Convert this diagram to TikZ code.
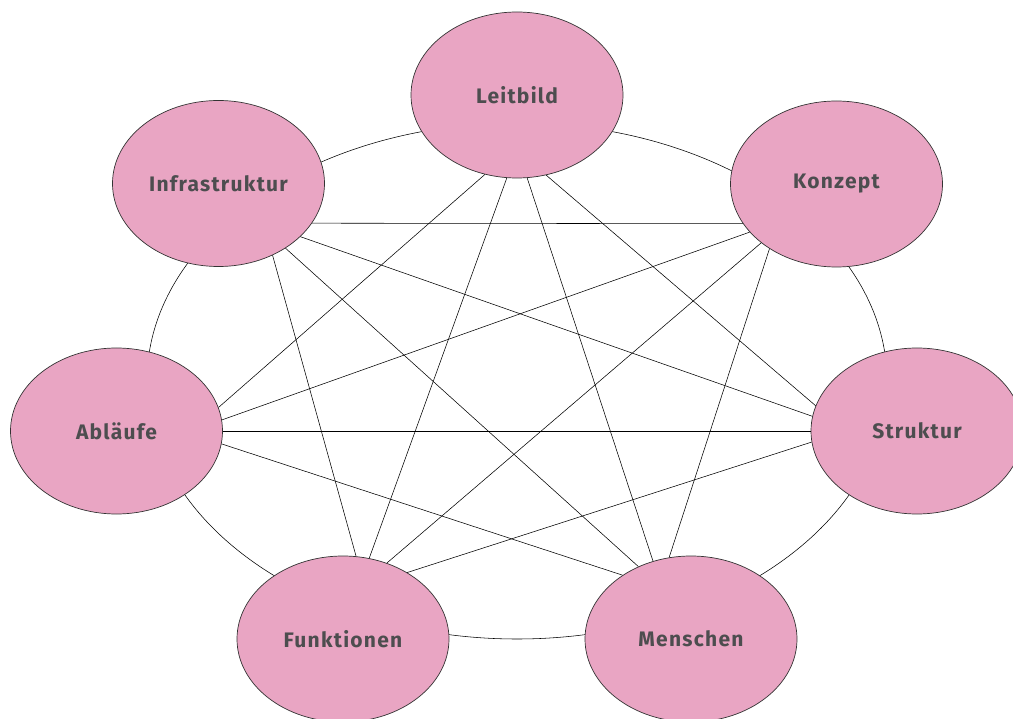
\documentclass[tikz,border=0pt]{standalone}
\usepackage{fontspec}
\setmainfont{Fira Sans}
\newfontfamily\lblfont[LetterSpace=6]{Fira Sans}
\usetikzlibrary{shapes.geometric}
\definecolor{nodefill}{HTML}{E9A5C3}
\definecolor{txt}{HTML}{4D4D4F}
\definecolor{edge}{HTML}{333333}
\begin{document}
\begin{tikzpicture}[x=1pt,y=-1pt,
  bubble/.style={ellipse, draw=edge, line width=0.7pt, fill=nodefill,
    minimum width=212pt, minimum height=166pt, inner sep=0pt, text=txt,
    font=\lblfont\fontsize{21}{24}\selectfont\bfseries},
  link/.style={draw=black, line width=0.55pt}]
\useasboundingbox (0,0) rectangle (1013,719);
\draw[link] (517,381) ellipse [x radius=370pt, y radius=258pt];
\node[bubble] (L) at (517,95) {Leitbild};
\node[bubble] (I) at (218.5,183.5) {Infrastruktur};
\node[bubble] (K) at (836.5,184) {Konzept};
\node[bubble] (A) at (116.5,431) {Abläufe};
\node[bubble] (S) at (917,431) {Struktur};
\node[bubble] (F) at (343,639) {Funktionen};
\node[bubble] (M) at (691,639) {Menschen};
% Leitbild
\draw[link] (L.248.8) -- (A.13.8);
\draw[link] (L.263.1) -- (F.72.4);
\draw[link] (L.277.5) -- (M.116.3);
\draw[link] (L.290.6) -- (S.166.2);
% Infrastruktur
\draw[link] (I.337.8) -- (K.203);
\draw[link] (I.327.8) -- (S.172.4);
\draw[link] (I.316.7) -- (M.126);
\draw[link] (I.307.8) -- (F.81.8);
% Konzept
\draw[link] (K.209.5) -- (A.6.5);
\draw[link] (K.218.1) -- (F.60.5);
\draw[link] (K.224.4) -- (M.105);
% Ablaeufe
\draw[link] (A.0) -- (S.180);
\draw[link] (A.353.6) -- (M.137.2);
% Struktur
\draw[link] (S.186) -- (F.46.8);
\end{tikzpicture}
\end{document}
